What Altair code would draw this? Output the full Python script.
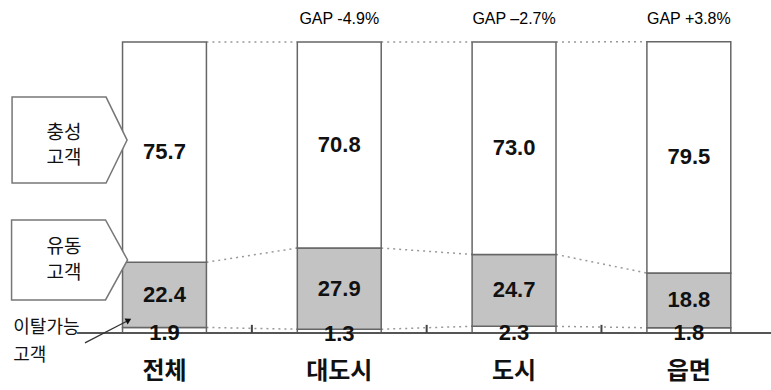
import altair as alt
import pandas as pd

# ---- data ----
categories = ["전체", "대도시", "도시", "읍면"]
churn = [1.9, 1.3, 2.3, 1.8]          # 이탈가능 고객
floating = [22.4, 27.9, 24.7, 18.8]   # 유동 고객
loyal = [75.7, 70.8, 73.0, 79.5]      # 충성 고객
gap_labels = ["", "GAP -4.9%", "GAP \u20132.7%", "GAP +3.8%"]

callout_lines = ["충성", "고객", "유동", "고객"]
callout_line_y = [68.7, 60.0, 29.5, 20.6]
churn_lines = ["이탈가능", "고객"]
churn_line_y = [1.6, -8.0]

# ---- derived tables ----
idx = list(range(len(categories)))
cum1 = churn
cum2 = [a + b for a, b in zip(churn, floating)]
top = [a + b for a, b in zip(cum2, loyal)]

HALF = 0.24  # half bar width in category units

seg_rows = []
for i in idx:
    seg_rows.append(dict(i=i, x0=i - HALF, x1=i + HALF, y0=0, y1=cum1[i], seg="churn", val=churn[i], mid=cum1[i] / 2))
    seg_rows.append(dict(i=i, x0=i - HALF, x1=i + HALF, y0=cum1[i], y1=cum2[i], seg="floating", val=floating[i], mid=(cum1[i] + cum2[i]) / 2))
    seg_rows.append(dict(i=i, x0=i - HALF, x1=i + HALF, y0=cum2[i], y1=top[i], seg="loyal", val=loyal[i], mid=(cum2[i] + top[i]) / 2))
segs = pd.DataFrame(seg_rows)

conn_rows = []
for i in idx[:-1]:
    for lvl in (cum1, cum2, top):
        conn_rows.append(dict(x=i + HALF, x2=i + 1 - HALF, y=lvl[i], y2=lvl[i + 1]))
conn = pd.DataFrame(conn_rows)

cats = pd.DataFrame(dict(i=idx, cat=categories, gap=gap_labels))
ticks = pd.DataFrame(dict(x=[i + 0.5 for i in idx[:-1]]))
axis_df = pd.DataFrame(dict(x=[-0.5], x2=[3.47]))

callouts = pd.DataFrame(dict(x=[-0.543, -0.543], y=[66.3, 25.1]))
callout_txt = pd.DataFrame(dict(x=[-0.575] * 4, y=callout_line_y, t=callout_lines))
churn_txt = pd.DataFrame(dict(x=[-0.865] * 2, y=churn_line_y, t=churn_lines))

X = alt.Scale(domain=[-0.941, 3.47], nice=False, zero=False)
Y = alt.Scale(domain=[0, 100], nice=False, zero=False)

def xq(f):
    return alt.X(f, type="quantitative", scale=X, axis=None)

def yq(f):
    return alt.Y(f, type="quantitative", scale=Y, axis=None)

bars = alt.Chart(segs).mark_rect(stroke="#666", strokeWidth=1.5).encode(
    x=xq("x0"), x2="x1", y=yq("y0"), y2="y1",
    fill=alt.Fill("seg:N", scale=alt.Scale(domain=["churn", "floating", "loyal"],
                                            range=["#ffffff", "#c3c3c3", "#ffffff"]), legend=None),
)

val_font = "Liberation Sans Narrow, Arial Narrow, Liberation Sans, sans-serif"
upper_labels = alt.Chart(segs[segs.seg != "churn"]).mark_text(
    font=val_font, fontSize=22, fontWeight="bold", color="#111", baseline="middle"
).encode(x=xq("i"), y=yq("mid"), text=alt.Text("val:Q", format=".1f"))

bottom_labels = alt.Chart(segs[segs.seg == "churn"]).mark_text(
    font=val_font, fontSize=22, fontWeight="bold", color="#111", baseline="middle", dy=3
).encode(x=xq("i"), y=yq("mid"), text=alt.Text("val:Q", format=".1f"))

connectors = alt.Chart(conn).mark_rule(color="#999", strokeWidth=1.5, strokeDash=[2, 4]).encode(
    x=xq("x"), x2="x2", y=yq("y"), y2="y2"
)

baseline = alt.Chart(axis_df).mark_rule(color="#555", strokeWidth=2).encode(
    x=xq("x"), x2="x2", y=alt.Y("zero:Q", scale=Y, axis=None)
).transform_calculate(zero="0")

tick_marks = alt.Chart(ticks).mark_rule(color="#444", strokeWidth=2).encode(
    x=xq("x"), y=alt.Y("a:Q", scale=Y, axis=None), y2="b:Q"
).transform_calculate(a="0", b="2.8")

cat_labels = alt.Chart(cats).mark_text(
    font="Noto Sans CJK KR", fontSize=24, fontWeight="bold", color="#111", baseline="middle"
).encode(x=xq("i"), y=alt.Y("yy:Q", scale=Y, axis=None), text="cat:N").transform_calculate(yy="-13.4")

gap_text = alt.Chart(cats).mark_text(
    font="Liberation Sans, Arial, sans-serif", fontSize=16, color="#000", baseline="middle"
).encode(x=xq("i"), y=alt.Y("yy:Q", scale=Y, axis=None), text="gap:N").transform_calculate(yy="107.9")

pent1 = alt.Chart(callouts.iloc[[0]]).mark_point(
    shape="M-1,-0.748 L0.635,-0.748 L1,0 L0.635,0.748 L-1,0.748 Z",
    size=13225, filled=True, fill="white", stroke="#777", strokeWidth=1.5, opacity=1
).encode(x=xq("x"), y=yq("y"))

pent2 = alt.Chart(callouts.iloc[[1]]).mark_point(
    shape="M-1,-0.69 L0.62,-0.69 L1,0 L0.62,0.69 L-1,0.69 Z",
    size=13456, filled=True, fill="white", stroke="#777", strokeWidth=1.5, opacity=1
).encode(x=xq("x"), y=yq("y"))

callout_text = alt.Chart(callout_txt).mark_text(
    font="Noto Sans CJK KR", fontSize=19, color="#111", baseline="middle"
).encode(x=xq("x"), y=yq("y"), text="t:N")

churn_text = alt.Chart(churn_txt).mark_text(
    font="Noto Sans CJK KR", fontSize=18, color="#111", baseline="middle", align="left"
).encode(x=xq("x"), y=yq("y"), text="t:N")

churn_arrow = pd.DataFrame(dict(ax=[-0.455], ay=[-3.4], bx=[-0.205], by=[4.4]))
arrow_line = alt.Chart(churn_arrow).mark_rule(color="#333", strokeWidth=1.2).encode(
    x=xq("ax"), x2="bx", y=yq("ay"), y2="by"
)
arrow_head = alt.Chart(churn_arrow).mark_point(
    shape="triangle-up", size=45, filled=True, color="#111", angle=62, opacity=1
).encode(x=xq("bx"), y=yq("by"))

chart = alt.layer(
    connectors, bars, upper_labels, baseline, tick_marks, bottom_labels,
    cat_labels, gap_text, pent1, pent2, callout_text, churn_text, arrow_line, arrow_head
).properties(
    width=771, height=291,
    autosize=alt.AutoSizeParams(type="none"),
    padding={"left": 0, "right": 0, "top": 42, "bottom": 57},
    background="white",
).configure_view(stroke=None)

chart.save("out.html", embed_options={"renderer": "svg", "actions": False})
